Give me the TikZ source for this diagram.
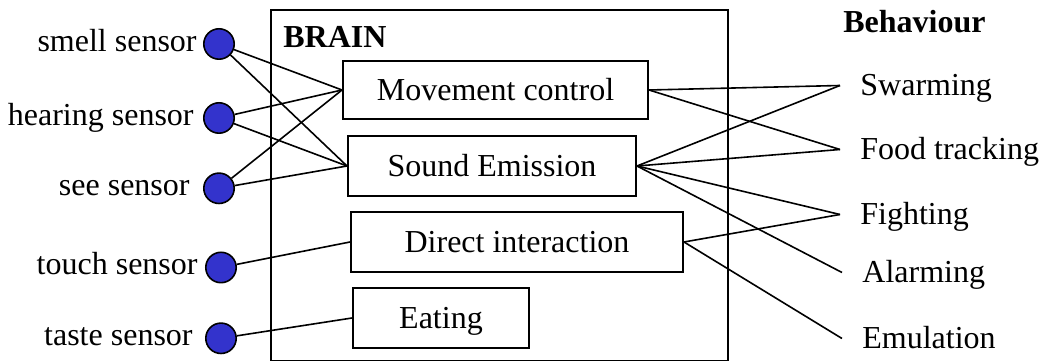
\documentclass[tikz,border=0pt]{standalone}
\usepackage{fontspec}
\setmainfont{LiberationSerif}[Extension=.ttf,UprightFont=*-Regular,BoldFont=*-Bold,ItalicFont=*-Italic,BoldItalicFont=*-BoldItalic]
\usetikzlibrary{positioning}
\definecolor{sensorblue}{RGB}{51,51,204}

\tikzset{
  sensor/.style={circle,draw,fill=sensorblue,line width=0.8pt,minimum size=15.2pt,inner sep=0pt},
  sensorlabel/.style={anchor=east,inner sep=0pt,text height=7.5pt,text depth=0pt},
  module/.style={rectangle,draw,line width=1pt,inner sep=0pt,text height=11pt,text depth=0pt},
  behaviour/.style={anchor=base west,inner xsep=10pt,inner ysep=0pt,text height=10.5pt,text depth=0pt},
  heading/.style={anchor=base west,inner sep=0pt,font=\fontsize{16}{19}\selectfont\bfseries},
  link/.style={line width=0.8pt},
}

\begin{document}
\begin{tikzpicture}[x=0.5pt,y=-0.5pt,font=\fontsize{16}{19}\selectfont]
    \useasboundingbox (0,0) rectangle (1041,362);

    % Brain box and headings
    \node[draw,line width=0.8pt,minimum width=228.5pt,minimum height=175.25pt,inner sep=0pt] (brainbox) at (499.5,185.25) {};
    \node[heading] (brain) at (283,48) {BRAIN};
    \node[heading] (behav) at (843,33) {Behaviour};

    % Modules inside the brain
    \node[module,minimum width=152.5pt,minimum height=29pt] (move) at (495.5,90) {Movement control};
    \node[module,minimum width=144pt,minimum height=30pt] (sound) at (492,166) {Sound Emission};
    \node[module,minimum width=166pt,minimum height=30pt] (direct) at (517,242) {Direct interaction};
    \node[module,minimum width=88pt,minimum height=30pt] (eat) at (441,318) {Eating};

    % Sensors on the left, with their names
    \foreach \i/\x/\y/\gap/\txt in {smell/219/44/3/smell sensor,hearing/219/118/4.5/hearing sensor,see/219/188.3/6.5/see sensor,touch/221/267.5/3.5/touch sensor,taste/221/338.3/6/taste sensor} {%
      \node[sensor] (s-\i) at (\x,\y) {};
      \node[sensorlabel,left=\gap pt of s-\i] (l-\i) {\txt};
    }

    % Behaviours on the right
    \foreach \i/\x/\y/\txt in {1/840/96/Swarming,2/840/160/Food tracking,3/840/225/Fighting,4/842/283/Alarming,5/842/349/Emulation} {%
      \node[behaviour] (b\i) at (\x,\y) {\txt};
    }

    % Sensors to modules
    \foreach \s in {smell,hearing,see} {%
      \draw[link] (s-\s) -- (move.west);
      \draw[link] (s-\s) -- (sound.west);
    }
    \draw[link] (s-touch) -- (direct.west);
    \draw[link] (s-taste) -- (eat.west);

    % Modules to behaviours
    \foreach \b in {1,2} \draw[link] (move.east) -- (b\b.west);
    \foreach \b in {1,2,3,4} \draw[link] (sound.east) -- (b\b.west);
    \foreach \b in {3,5} \draw[link] (direct.east) -- (b\b.west);

\end{tikzpicture}
\end{document}
